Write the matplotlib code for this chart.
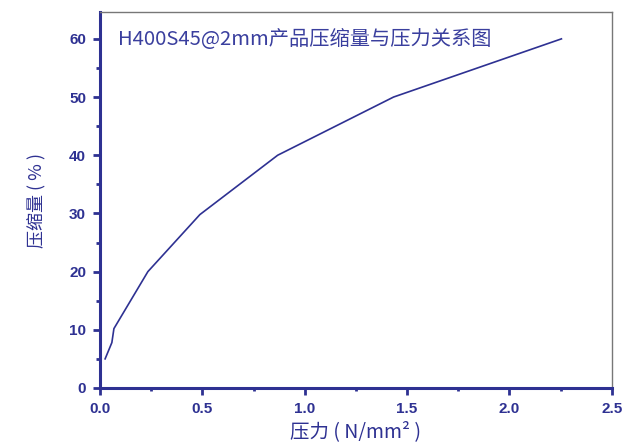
import matplotlib.pyplot as plt
from matplotlib.ticker import MultipleLocator

plt.rcParams['font.family'] = ['Noto Sans CJK SC', 'DejaVu Sans']

# data
pressure = [0.025, 0.058, 0.068, 0.234, 0.488, 0.868, 1.434, 2.254]
compression = [5.0, 7.8, 10.2, 20.0, 29.8, 40.0, 50.0, 60.0]

navy = '#2E3192'
title_text = 'H400S45@2mm产品压缩量与压力关系图'

fig = plt.figure(figsize=(6.23, 4.48), dpi=100)
ax = fig.add_axes([0.1605, 0.134, 0.8215, 0.839])

ax.plot(pressure, compression, color=navy, linewidth=1.2)

ax.set_xlim(0, 2.5)
ax.set_ylim(0, 64.6)
ax.xaxis.set_major_locator(MultipleLocator(0.5))
ax.xaxis.set_minor_locator(MultipleLocator(0.25))
ax.yaxis.set_major_locator(MultipleLocator(10))
ax.yaxis.set_minor_locator(MultipleLocator(5))

for side in ['left', 'bottom']:
    ax.spines[side].set_color(navy)
    ax.spines[side].set_linewidth(2.2)
for side in ['top', 'right']:
    ax.spines[side].set_color('#777777')
    ax.spines[side].set_linewidth(1.0)

ax.tick_params(which='major', direction='out', length=5, width=2, color=navy,
               labelcolor=navy, pad=5)
ax.tick_params(which='minor', direction='out', length=3, width=2, color=navy)
ax.tick_params(axis='x', which='minor', length=2)
for lab in ax.get_xticklabels() + ax.get_yticklabels():
    lab.set_fontfamily('Liberation Sans')
    lab.set_fontweight('bold')
    lab.set_fontsize(11)

ax.text(0.035, 0.928, title_text, transform=ax.transAxes, fontsize=14.6,
        color='#3A3F9E', va='center', ha='left')

ax.set_xlabel('压力 ( N/mm² )', fontsize=14, color=navy, labelpad=4)
ax.set_ylabel('压缩量 ( % )', fontsize=13, color=navy, labelpad=16)

fig.savefig('out.png', dpi=100)
